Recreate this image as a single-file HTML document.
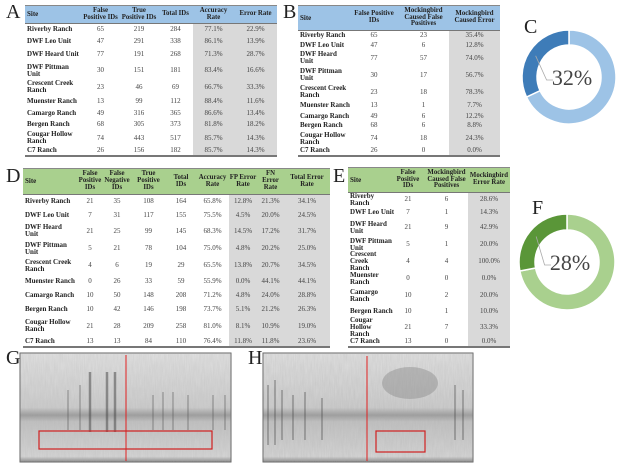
<!DOCTYPE html>
<html><head><meta charset="utf-8">
<style>
body{margin:0;width:622px;height:467px;background:#fff;position:relative;overflow:hidden;font-family:"Liberation Serif",serif;color:#333}
.lbl{position:absolute;font-size:20px;font-family:"Liberation Serif",serif;color:#222}
.tb{position:absolute}
.cell{position:absolute;display:flex;align-items:center;justify-content:center;text-align:center;font-size:7px;line-height:7px;box-sizing:border-box;color:#444}
.hd{font-weight:bold;font-size:6.8px;line-height:6.8px;color:#222}
.site{justify-content:flex-start;text-align:left;font-weight:bold;padding-left:2px;color:#222;font-size:7px;line-height:7px}
</style></head><body>
<div class="lbl" style="left:6px;top:1px">A</div>
<div class="lbl" style="left:283px;top:1px">B</div>
<div class="lbl" style="left:524px;top:16px">C</div>
<div class="lbl" style="left:6px;top:165px">D</div>
<div class="lbl" style="left:333px;top:165px">E</div>
<div class="lbl" style="left:532px;top:197px">F</div>
<div class="lbl" style="left:6px;top:347px">G</div>
<div class="lbl" style="left:248px;top:347px">H</div>

<svg id="spec" width="622" height="467" style="position:absolute;left:0;top:0">
<defs>
<filter id="nz" x="0" y="0" width="1" height="1"><feTurbulence type="fractalNoise" baseFrequency="0.9 0.08" numOctaves="2" seed="3"/><feColorMatrix type="matrix" values="0 0 0 0 0.4 0 0 0 0 0.4 0 0 0 0 0.4 0 0 0 0.5 0"/></filter>
<linearGradient id="sg" x1="0" y1="0" x2="0" y2="1"><stop offset="0" stop-color="#e2e2e2"/><stop offset="0.5" stop-color="#cdcdcd"/><stop offset="0.57" stop-color="#9c9c9c"/><stop offset="0.63" stop-color="#c2c2c2"/><stop offset="0.95" stop-color="#d6d6d6"/><stop offset="1" stop-color="#888"/></linearGradient>
</defs>
<g>
<rect x="20" y="353" width="211" height="109" fill="url(#sg)" stroke="#666"/>
<rect x="20" y="353" width="211" height="109" filter="url(#nz)" opacity="0.6"/>
<g stroke="#444" stroke-width="2.5" opacity="0.5"><line x1="90" y1="372" x2="90" y2="432"/><line x1="107" y1="372" x2="107" y2="432"/><line x1="115" y1="372" x2="115" y2="432"/></g>
<g stroke="#555" stroke-width="1" opacity="0.6"><line x1="68" y1="390" x2="68" y2="430"/><line x1="80" y1="385" x2="80" y2="430"/><line x1="153" y1="395" x2="153" y2="430"/><line x1="163" y1="392" x2="163" y2="430"/><line x1="173" y1="392" x2="173" y2="430"/><line x1="188" y1="395" x2="188" y2="430"/><line x1="213" y1="395" x2="213" y2="430"/><line x1="225" y1="395" x2="225" y2="430"/></g>
<line x1="126" y1="355" x2="126" y2="461" stroke="#e02020" stroke-width="1"/>
<rect x="39" y="431" width="173" height="18" fill="none" stroke="#d02020" stroke-width="1.2"/>
</g>
<g>
<rect x="263" y="353" width="210" height="109" fill="url(#sg)" stroke="#666"/>
<rect x="263" y="353" width="210" height="109" filter="url(#nz)" opacity="0.7"/>
<ellipse cx="410" cy="383" rx="28" ry="16" fill="#8a8a8a" opacity="0.45"/>
<g stroke="#444" stroke-width="1.3" opacity="0.5"><line x1="268" y1="385" x2="268" y2="445"/><line x1="275" y1="380" x2="275" y2="445"/><line x1="282" y1="390" x2="282" y2="440"/><line x1="293" y1="395" x2="293" y2="440"/><line x1="305" y1="392" x2="305" y2="440"/><line x1="322" y1="398" x2="322" y2="440"/><line x1="455" y1="385" x2="455" y2="440"/><line x1="463" y1="390" x2="463" y2="440"/></g>
<line x1="367" y1="356" x2="367" y2="461" stroke="#e02020" stroke-width="1"/>
<rect x="376" y="431" width="49" height="21" fill="none" stroke="#d02020" stroke-width="1.2"/>
</g>
</svg>
<svg id="donuts" width="622" height="467" style="position:absolute;left:0;top:0"></svg>

<script>
const sitesA=["Riverby Ranch","DWF Leo Unit","DWF Heard Unit","DWF Pittman<br>Unit","Crescent Creek<br>Ranch","Muenster Ranch","Camargo Ranch","Bergen Ranch","Cougar Hollow<br>Ranch","C7 Ranch"];
const sitesB=["Riverby Ranch","DWF Leo Unit","DWF Heard<br>Unit","DWF Pittman<br>Unit","Crescent Creek<br>Ranch","Muenster Ranch","Camargo Ranch","Bergen Ranch","Cougar Hollow<br>Ranch","C7 Ranch"];
const sitesD=["Riverby Ranch","DWF Leo Unit","DWF Heard<br>Unit","DWF Pittman<br>Unit","Crescent Creek<br>Ranch","Muenster Ranch","Camargo Ranch","Bergen Ranch","Cougar Hollow<br>Ranch","C7 Ranch"];
const sitesE=["Riverby Ranch","DWF Leo Unit","DWF Heard<br>Unit","DWF Pittman<br>Unit","Crescent Creek<br>Ranch","Muenster<br>Ranch","Camargo<br>Ranch","Bergen Ranch","Cougar Hollow<br>Ranch","C7 Ranch"];
const headA=["Site","False<br>Positive IDs","True<br>Positive IDs","Total IDs","Accuracy<br>Rate","Error Rate"];
const rowsA=[[65,219,284,"77.1%","22.9%"],[47,291,338,"86.1%","13.9%"],[77,191,268,"71.3%","28.7%"],[30,151,181,"83.4%","16.6%"],[23,46,69,"66.7%","33.3%"],[13,99,112,"88.4%","11.6%"],[49,316,365,"86.6%","13.4%"],[68,305,373,"81.8%","18.2%"],[74,443,517,"85.7%","14.3%"],[26,156,182,"85.7%","14.3%"]];
const headB=["Site","False Positive<br>IDs","Mockingbird<br>Caused False<br>Positives","Mockingbird<br>Caused Error"];
const rowsB=[[65,23,"35.4%"],[47,6,"12.8%"],[77,57,"74.0%"],[30,17,"56.7%"],[23,18,"78.3%"],[13,1,"7.7%"],[49,6,"12.2%"],[68,6,"8.8%"],[74,18,"24.3%"],[26,0,"0.0%"]];
const headD=["Site","False<br>Positive<br>IDs","False<br>Negative<br>IDs","True<br>Positive<br>IDs","Total<br>IDs","Accuracy<br>Rate","FP Error<br>Rate","FN Error<br>Rate","Total Error<br>Rate"];
const rowsD=[[21,35,108,164,"65.8%","12.8%","21.3%","34.1%"],[7,31,117,155,"75.5%","4.5%","20.0%","24.5%"],[21,25,99,145,"68.3%","14.5%","17.2%","31.7%"],[5,21,78,104,"75.0%","4.8%","20.2%","25.0%"],[4,6,19,29,"65.5%","13.8%","20.7%","34.5%"],[0,26,33,59,"55.9%","0.0%","44.1%","44.1%"],[10,50,148,208,"71.2%","4.8%","24.0%","28.8%"],[10,42,146,198,"73.7%","5.1%","21.2%","26.3%"],[21,28,209,258,"81.0%","8.1%","10.9%","19.0%"],[13,13,84,110,"76.4%","11.8%","11.8%","23.6%"]];
const headE=["Site","False<br>Positive<br>IDs","Mockingbird<br>Caused False<br>Positives","Mockingbird<br>Error Rate"];
const rowsE=[[21,6,"28.6%"],[7,1,"14.3%"],[21,9,"42.9%"],[5,1,"20.0%"],[4,4,"100.0%"],[0,0,"0.0%"],[10,2,"20.0%"],[10,1,"10.0%"],[21,7,"33.3%"],[13,0,"0.0%"]];
const donutC=[32];
const donutF=[28];

function build(name,cols,hy,hb,rb,head,sites,rows,grayFrom,hc){
  const t=document.createElement('div');
  t.className='tb';
  
  
  document.body.appendChild(t);
  const x0=cols[0],x1=cols[cols.length-1];
  const bg=document.createElement('div');
  bg.style.cssText=`position:absolute;left:${x0}px;top:${hy}px;width:${x1-x0}px;height:${hb-hy}px;background:${hc};border-top:1.5px solid #888;border-bottom:1.5px solid #777;box-sizing:border-box`;
  
  
  t.appendChild(bg);
  const g=document.createElement('div');
  g.style.cssText=`position:absolute;left:${cols[grayFrom]}px;top:${hb}px;width:${x1-cols[grayFrom]}px;height:${rb[rb.length-1]-hb}px;background:#d9d9d9`;
  
  
  t.appendChild(g);
  const bl=document.createElement('div');
  bl.style.cssText=`position:absolute;left:${x0}px;top:${rb[rb.length-1]}px;width:${x1-x0}px;height:1.5px;background:#777`;
  
  
  t.appendChild(bl);
  function cell(x,w,y,h,html,cls,nm){
    const c=document.createElement('div');
    c.className='cell '+cls;
    c.style.left=x+'px';c.style.top=y+'px';c.style.width=w+'px';c.style.height=h+'px';
    c.innerHTML=html;
    
    
    t.appendChild(c);
  }
  head.forEach((h,i)=>cell(cols[i],cols[i+1]-cols[i],hy,hb-hy,h,'hd'+(i==0?' site':''),'column-header'));
  rows.forEach((r,j)=>{
    const y=rb[j],h=rb[j+1]-rb[j];
    cell(cols[0],cols[1]-cols[0]+4,y,h,sites[j],'site','site-name');
    r.forEach((v,i)=>cell(cols[i+1],cols[i+2]-cols[i+1],y,h,v,'','table-value'));
  });
}
const blue="#9dc3e6",green="#a9d08e";
build('table-a',[25,81,120,158,193,234,277],5,24,[24,35.5,47.5,62,79.5,95,107.5,118.5,131,145,155],headA,sitesA,rowsA,4,blue);
build('table-b',[298,350,398,449,500],5,31,[31,40.5,50.5,66,84,100,111.5,120.5,131,146,155],headB,sitesB,rowsB,3,blue);
build('table-d',[23,77,103,131,166,196,229,257,284,330],168,195,[195,208,222,240,257,274,288,302,316,336,346],headD,sitesD,rowsD,6,green);
build('table-e',[348,391,425,468,510],167,193,[193,206,219,236,253,270,287,304,318,337,346],headE,sitesE,rowsE,3,green);

const NS="http://www.w3.org/2000/svg";
const dsvg=document.getElementById('donuts');
function donut(cx,cy,R,r,vals,dark,light,nm){
  const v=vals[0]/100;
  function pt(a,rad){return [cx+rad*Math.sin(a),cy-rad*Math.cos(a)];}
  function arc(a0,a1,col,n){
    const large=(a1-a0)>Math.PI?1:0;
    const [x0,y0]=pt(a0,R),[x1,y1]=pt(a1,R),[x2,y2]=pt(a1,r),[x3,y3]=pt(a0,r);
    const p=document.createElementNS(NS,'path');
    p.setAttribute('d',`M${x0},${y0}A${R},${R} 0 ${large} 1 ${x1},${y1}L${x2},${y2}A${r},${r} 0 ${large} 0 ${x3},${y3}Z`);
    p.setAttribute('fill',col);p.setAttribute('stroke','#fff');p.setAttribute('stroke-width','1.5');
    
    
    dsvg.appendChild(p);
  }
  const split=2*Math.PI*(1-v);
  arc(0,split,light,nm+'-remainder-slice');
  arc(split,2*Math.PI,dark,nm+'-value-slice');
  const mid=split+(2*Math.PI-split)/2;
  const [lx,ly]=pt(mid,(R+r)/2);
  const l=document.createElementNS(NS,'polyline');
  l.setAttribute('points',`${lx},${ly} ${cx-r*0.7},${cy+3} ${cx-r*0.5},${cy+3}`);
  l.setAttribute('fill','none');l.setAttribute('stroke','#aaa');l.setAttribute('stroke-width','0.8');
  
  
  dsvg.appendChild(l);
  const t=document.createElementNS(NS,'text');
  t.setAttribute('x',cx+3);t.setAttribute('y',cy+8);t.setAttribute('text-anchor','middle');
  t.setAttribute('font-family','Liberation Serif, serif');t.setAttribute('font-size','22');t.setAttribute('fill','#444');
  t.textContent=vals[0]+'%';
  
  
  dsvg.appendChild(t);
}
donut(569,77,47,32,donutC,"#3e7cb8",blue,'donut-c');
donut(567,262,48,32,donutF,"#5a9638",green,'donut-f');
</script>
</body></html>
